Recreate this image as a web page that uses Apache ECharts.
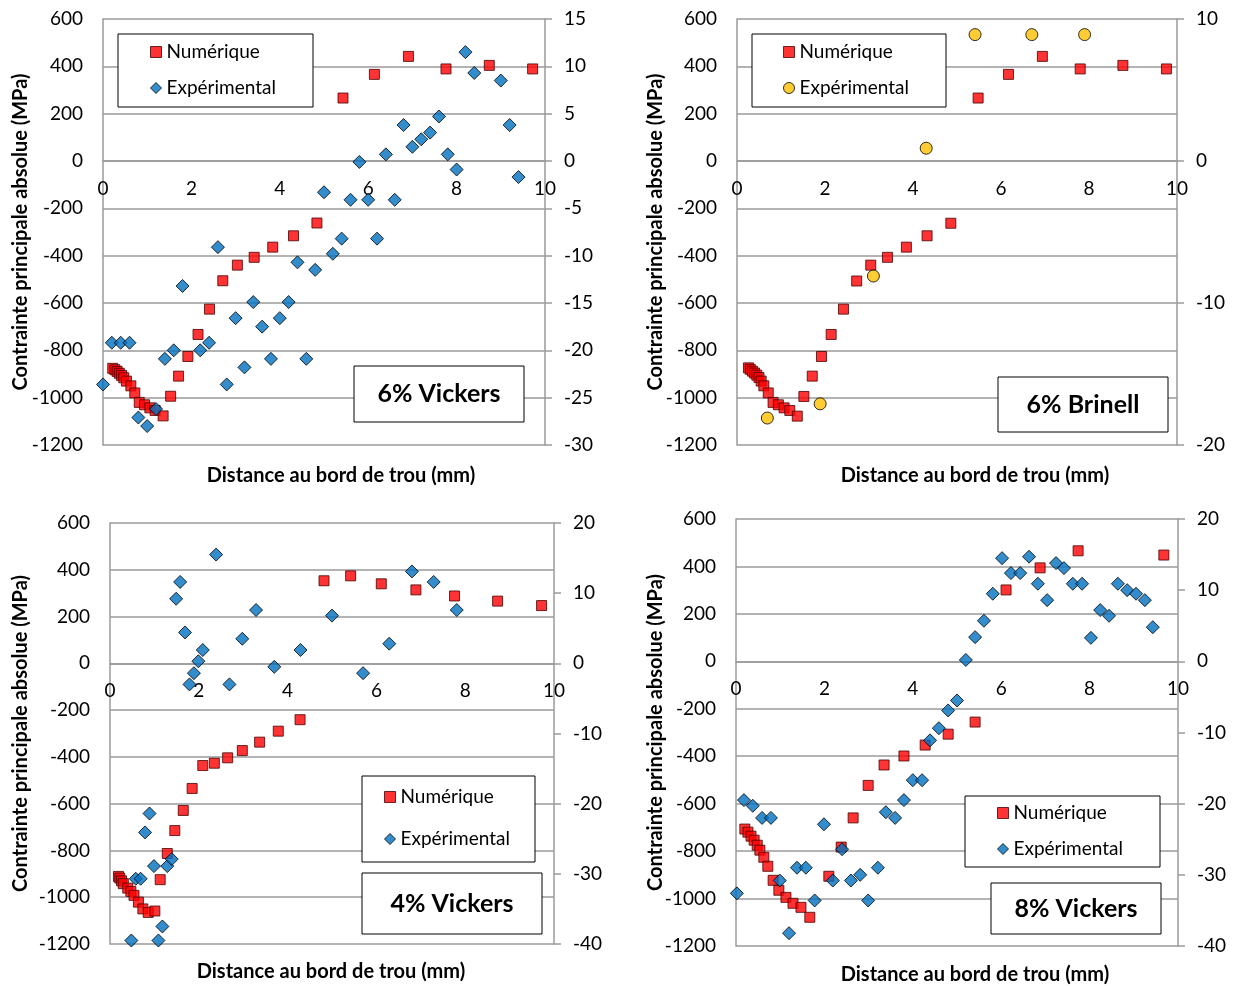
<!DOCTYPE html>
<html>
<head>
<meta charset="utf-8">
<script src="https://cdn.jsdelivr.net/npm/echarts@6/dist/echarts.min.js"></script>
<style>
  html, body { margin: 0; background: #fff; }
  #chart { width: 1236px; height: 986px; }
</style>
</head>
<body>
<div id="chart"></div>
<script>
// 6% Vickers
const v6NumX = [0.22, 0.27, 0.32, 0.37, 0.42, 0.47, 0.53, 0.63, 0.72, 0.82, 0.94, 1.06, 1.18, 1.36, 1.53, 1.71, 1.92, 2.15, 2.41, 2.71, 3.04, 3.42, 3.84, 4.31, 4.84, 5.43, 6.14, 6.91, 7.76, 8.74, 9.72]
const v6NumY = [-876, -882, -889, -897, -906, -916, -930, -950, -980, -1020, -1030, -1043, -1054, -1077, -994, -909, -826, -733, -626, -506, -440, -407, -364, -316, -262, 266, 366, 442, 389, 404, 389]
const v6ExpX = [0, 0.2, 0.4, 0.6, 0.8, 1.0, 1.2, 1.4, 1.6, 1.8, 2.2, 2.4, 2.6, 2.8, 3.0, 3.2, 3.4, 3.6, 3.8, 4.0, 4.2, 4.4, 4.6, 4.8, 5.0, 5.2, 5.4, 5.6, 5.8, 6.0, 6.2, 6.4, 6.6, 6.8, 7.0, 7.2, 7.4, 7.6, 7.8, 8.0, 8.2, 8.4, 9.0, 9.2, 9.4]
const v6ExpY = [-23.6, -19.2, -19.2, -19.2, -27.1, -28.0, -26.2, -20.9, -20.0, -13.2, -20.0, -19.2, -9.1, -23.6, -16.6, -21.8, -14.9, -17.5, -20.9, -16.6, -14.9, -10.7, -20.9, -11.5, -3.3, -9.8, -8.2, -4.1, -0.1, -4.1, -8.2, 0.7, -4.1, 3.8, 1.5, 2.3, 3.0, 4.7, 0.7, -0.9, 11.5, 9.3, 8.5, 3.8, -1.7]

// 6% Brinell
const b6NumX = [0.26, 0.30, 0.35, 0.40, 0.45, 0.50, 0.55, 0.61, 0.71, 0.82, 0.94, 1.07, 1.20, 1.37, 1.52, 1.71, 1.92, 2.14, 2.42, 2.72, 3.04, 3.42, 3.85, 4.32, 4.86, 5.48, 6.17, 6.94, 7.80, 8.77, 9.76]
const b6NumY = [-874, -880, -888, -896, -905, -915, -930, -950, -980, -1020, -1030, -1043, -1054, -1078, -995, -909, -826, -733, -626, -507, -440, -407, -364, -316, -263, 266, 366, 442, 389, 404, 389]
const b6ExpX = [0.69, 1.89, 3.10, 4.30, 5.41, 6.70, 7.90]
const b6ExpY = [-18.1, -17.1, -8.1, 0.9, 8.9, 8.9, 8.9]

// 4% Vickers
const v4NumX = [0.19, 0.22, 0.26, 0.30, 0.40, 0.47, 0.54, 0.64, 0.74, 0.86, 1.01, 1.13, 1.29, 1.46, 1.65, 1.85, 2.09, 2.35, 2.65, 2.98, 3.37, 3.79, 4.28, 4.82, 5.42, 6.11, 6.89, 7.76, 8.73, 9.72]
const v4NumY = [-911, -918, -930, -942, -961, -975, -992, -1021, -1050, -1065, -1059, -925, -813, -715, -629, -535, -437, -427, -404, -373, -337, -290, -241, 353, 374, 340, 314, 288, 266, 247]
const v4ExpX = [0.48, 0.58, 0.69, 0.79, 0.89, 0.99, 1.09, 1.18, 1.29, 1.39, 1.49, 1.58, 1.69, 1.79, 1.89, 1.99, 2.09, 2.39, 2.69, 2.98, 3.29, 3.70, 4.29, 5.00, 5.70, 6.29, 6.80, 7.29, 7.81]
const v4ExpY = [-39.5, -30.7, -30.7, -24.1, -21.4, -28.9, -39.5, -37.5, -28.9, -27.9, 9.2, 11.6, 4.4, -3.0, -1.4, 0.3, 1.9, 15.5, -3.0, 3.5, 7.6, -0.5, 1.9, 6.8, -1.4, 2.8, 13.1, 11.6, 7.6]

// 8% Vickers
const v8NumX = [0.20, 0.27, 0.34, 0.41, 0.48, 0.54, 0.63, 0.72, 0.84, 0.97, 1.13, 1.29, 1.47, 1.67, 2.10, 2.38, 2.65, 2.99, 3.35, 3.80, 4.28, 4.80, 5.41, 6.11, 6.88, 7.74, 9.68]
const v8NumY = [-707, -720, -737, -754, -775, -796, -826, -864, -923, -965, -995, -1020, -1037, -1079, -906, -783, -660, -523, -437, -399, -353, -307, -256, 301, 394, 466, 448]
const v8ExpX = [0.02, 0.18, 0.38, 0.59, 0.79, 0.99, 1.20, 1.38, 1.58, 1.78, 1.99, 2.19, 2.40, 2.60, 2.81, 2.99, 3.21, 3.39, 3.60, 3.80, 4.00, 4.21, 4.39, 4.59, 4.80, 5.00, 5.20, 5.41, 5.61, 5.81, 6.02, 6.22, 6.43, 6.63, 6.83, 7.04, 7.24, 7.42, 7.62, 7.83, 8.03, 8.24, 8.44, 8.64, 8.85, 9.05, 9.25, 9.43]
const v8ExpY = [-32.6, -19.5, -20.3, -22.0, -22.0, -30.8, -38.2, -29.0, -29.0, -33.6, -22.9, -30.8, -26.4, -30.8, -30.0, -33.6, -29.0, -21.2, -22.0, -19.5, -16.7, -16.7, -11.1, -9.4, -6.9, -5.5, 0.2, 3.4, 5.7, 9.5, 14.5, 12.4, 12.4, 14.7, 10.9, 8.6, 13.8, 13.1, 10.9, 10.9, 3.3, 7.2, 6.4, 10.9, 10.0, 9.5, 8.6, 4.8]

const xTicks = [0, 2, 4, 6, 8, 10]
const leftTicks = [-1200, 600, 200]
const labels = ['6% Vickers', '6% Brinell', '4% Vickers', '8% Vickers']
const yName = 'Contrainte principale absolue (MPa)'
const xName = 'Distance au bord de trou (mm)'

const font = 'Lato, "Open Sans", sans-serif'
const gray = '#9a9a9a'

const pts = (xs, ys) => xs.map((x, i) => [x, ys[i]])

const panels = [
  {grid: {left: 103, top: 19, width: 442, height: 426}, right: [-30, 15, 5], num: pts(v6NumX, v6NumY), exp: pts(v6ExpX, v6ExpY),
    expSymbol: 'diamond', expColor: '#0070C0', nameGap: 72, xNamePos: [341, 476],
    legendBox: [118, 34, 195, 73], legendPos: [150, 42], legendGap: 16, labelBox: [354, 366, 170, 56]},
  {grid: {left: 737, top: 19, width: 440, height: 426}, right: [-20, 10, 10], num: pts(b6NumX, b6NumY), exp: pts(b6ExpX, b6ExpY),
    expSymbol: 'circle', expColor: '#FFC000', nameGap: 71, xNamePos: [975, 476],
    legendBox: [752, 34, 194, 73], legendPos: [783, 42], legendGap: 16, labelBox: [998, 377, 170, 55]},
  {grid: {left: 110, top: 523, width: 444, height: 421}, right: [-40, 20, 10], num: pts(v4NumX, v4NumY), exp: pts(v4ExpX, v4ExpY),
    expSymbol: 'diamond', expColor: '#0070C0', nameGap: 79, xNamePos: [331, 972],
    legendBox: [362, 776, 173, 86], legendPos: [384, 787], legendGap: 22, labelBox: [362, 873, 180, 61]},
  {grid: {left: 736, top: 519, width: 442, height: 427}, right: [-40, 20, 10], num: pts(v8NumX, v8NumY), exp: pts(v8ExpX, v8ExpY),
    expSymbol: 'diamond', expColor: '#0070C0', nameGap: 70, xNamePos: [975, 975],
    legendBox: [965, 796, 195, 71], legendPos: [997, 803], legendGap: 16, labelBox: [991, 883, 170, 51]},
]

const numStyle = {color: '#FF0000', borderColor: '#4a0000', borderWidth: 1}
const expStyle = (p) => ({color: p.expColor, borderColor: '#000', borderWidth: 1})
const expSize = (p) => p.expSymbol === 'circle' ? 12 : 13

const tickLabel = {color: '#000', fontSize: 19, fontFamily: font}

// x axis sits on the 0 MPa line: move it up from the bottom by the part of the plot below zero
const zeroOffset = (p) => -p.grid.height * (0 - leftTicks[0]) / (leftTicks[1] - leftTicks[0])

const xAxis = panels.map((p, i) => ({
  type: 'value', gridIndex: i, position: 'bottom', offset: zeroOffset(p),
  min: xTicks[0], max: xTicks[xTicks.length - 1], interval: xTicks[1] - xTicks[0],
  axisLine: {onZero: false, lineStyle: {color: gray, width: 1.5}},
  axisTick: {show: false},
  axisLabel: {...tickLabel, margin: 18},
  splitLine: {show: false}
}))

const yAxis = []
panels.forEach((p, i) => {
  yAxis.push({
    type: 'value', gridIndex: i, position: 'left', min: leftTicks[0], max: leftTicks[1], interval: leftTicks[2],
    name: yName, nameLocation: 'middle', nameRotate: 90, nameGap: p.nameGap, nameMoveOverlap: false,
    nameTextStyle: {color: '#000', fontSize: 20, fontWeight: 'bold', fontFamily: font},
    axisLine: {show: true, onZero: false, lineStyle: {color: gray, width: 1.5}},
    axisTick: {show: false},
    axisLabel: {...tickLabel, margin: 20, formatter: (v) => String(v)},
    splitLine: {show: true, lineStyle: {color: gray, width: 1.5}}
  })
  yAxis.push({
    type: 'value', gridIndex: i, position: 'right', min: p.right[0], max: p.right[1], interval: p.right[2],
    axisLine: {show: true, onZero: false, lineStyle: {color: gray, width: 1.5}},
    axisTick: {show: true, inside: false, length: 7, lineStyle: {color: gray, width: 1.5}},
    axisLabel: {...tickLabel, margin: 19, formatter: (v) => String(v)},
    splitLine: {show: false}
  })
})

const series = []
panels.forEach((p, i) => {
  series.push({
    type: 'scatter', name: 'Numérique', xAxisIndex: i, yAxisIndex: i * 2,
    data: p.num, symbol: 'rect', symbolSize: 10, itemStyle: numStyle, z: 2
  })
  series.push({
    type: 'scatter', name: 'Expérimental', xAxisIndex: i, yAxisIndex: i * 2 + 1,
    data: p.exp, symbol: p.expSymbol, symbolSize: expSize(p), itemStyle: expStyle(p), z: 3
  })
})

const legend = panels.map((p) => ({
  left: p.legendPos[0], top: p.legendPos[1], orient: 'vertical', padding: 0,
  itemGap: p.legendGap, itemWidth: 11, itemHeight: 11, selectedMode: false, z: 10,
  textStyle: {color: '#000', fontSize: 19, fontFamily: font, lineHeight: 20},
  data: [
    {name: 'Numérique', icon: 'rect', itemStyle: numStyle},
    {name: 'Expérimental', icon: p.expSymbol, itemStyle: expStyle(p)}
  ]
}))

const graphic = []
panels.forEach((p, i) => {
  const [lx, ly, lw, lh] = p.legendBox
  graphic.push({type: 'rect', z: 9, shape: {x: lx, y: ly, width: lw, height: lh},
    style: {fill: '#fff', stroke: '#000', lineWidth: 1}})
  const [bx, by, bw, bh] = p.labelBox
  graphic.push({type: 'rect', z: 9, shape: {x: bx, y: by, width: bw, height: bh},
    style: {fill: '#fff', stroke: '#000', lineWidth: 1}})
  graphic.push({type: 'text', z: 10, x: bx + bw / 2, y: by + bh / 2,
    style: {text: labels[i], fill: '#000', font: 'bold 25px ' + font, align: 'center', verticalAlign: 'middle'}})
  graphic.push({type: 'text', z: 10, x: p.xNamePos[0], y: p.xNamePos[1],
    style: {text: xName, fill: '#000', font: 'bold 20px ' + font, align: 'center', verticalAlign: 'middle'}})
})

const chart = echarts.init(document.getElementById('chart'))
chart.setOption({
  animation: false,
  backgroundColor: '#fff',
  grid: panels.map(p => p.grid),
  xAxis,
  yAxis,
  legend,
  graphic,
  series
})
</script>
</body>
</html>
